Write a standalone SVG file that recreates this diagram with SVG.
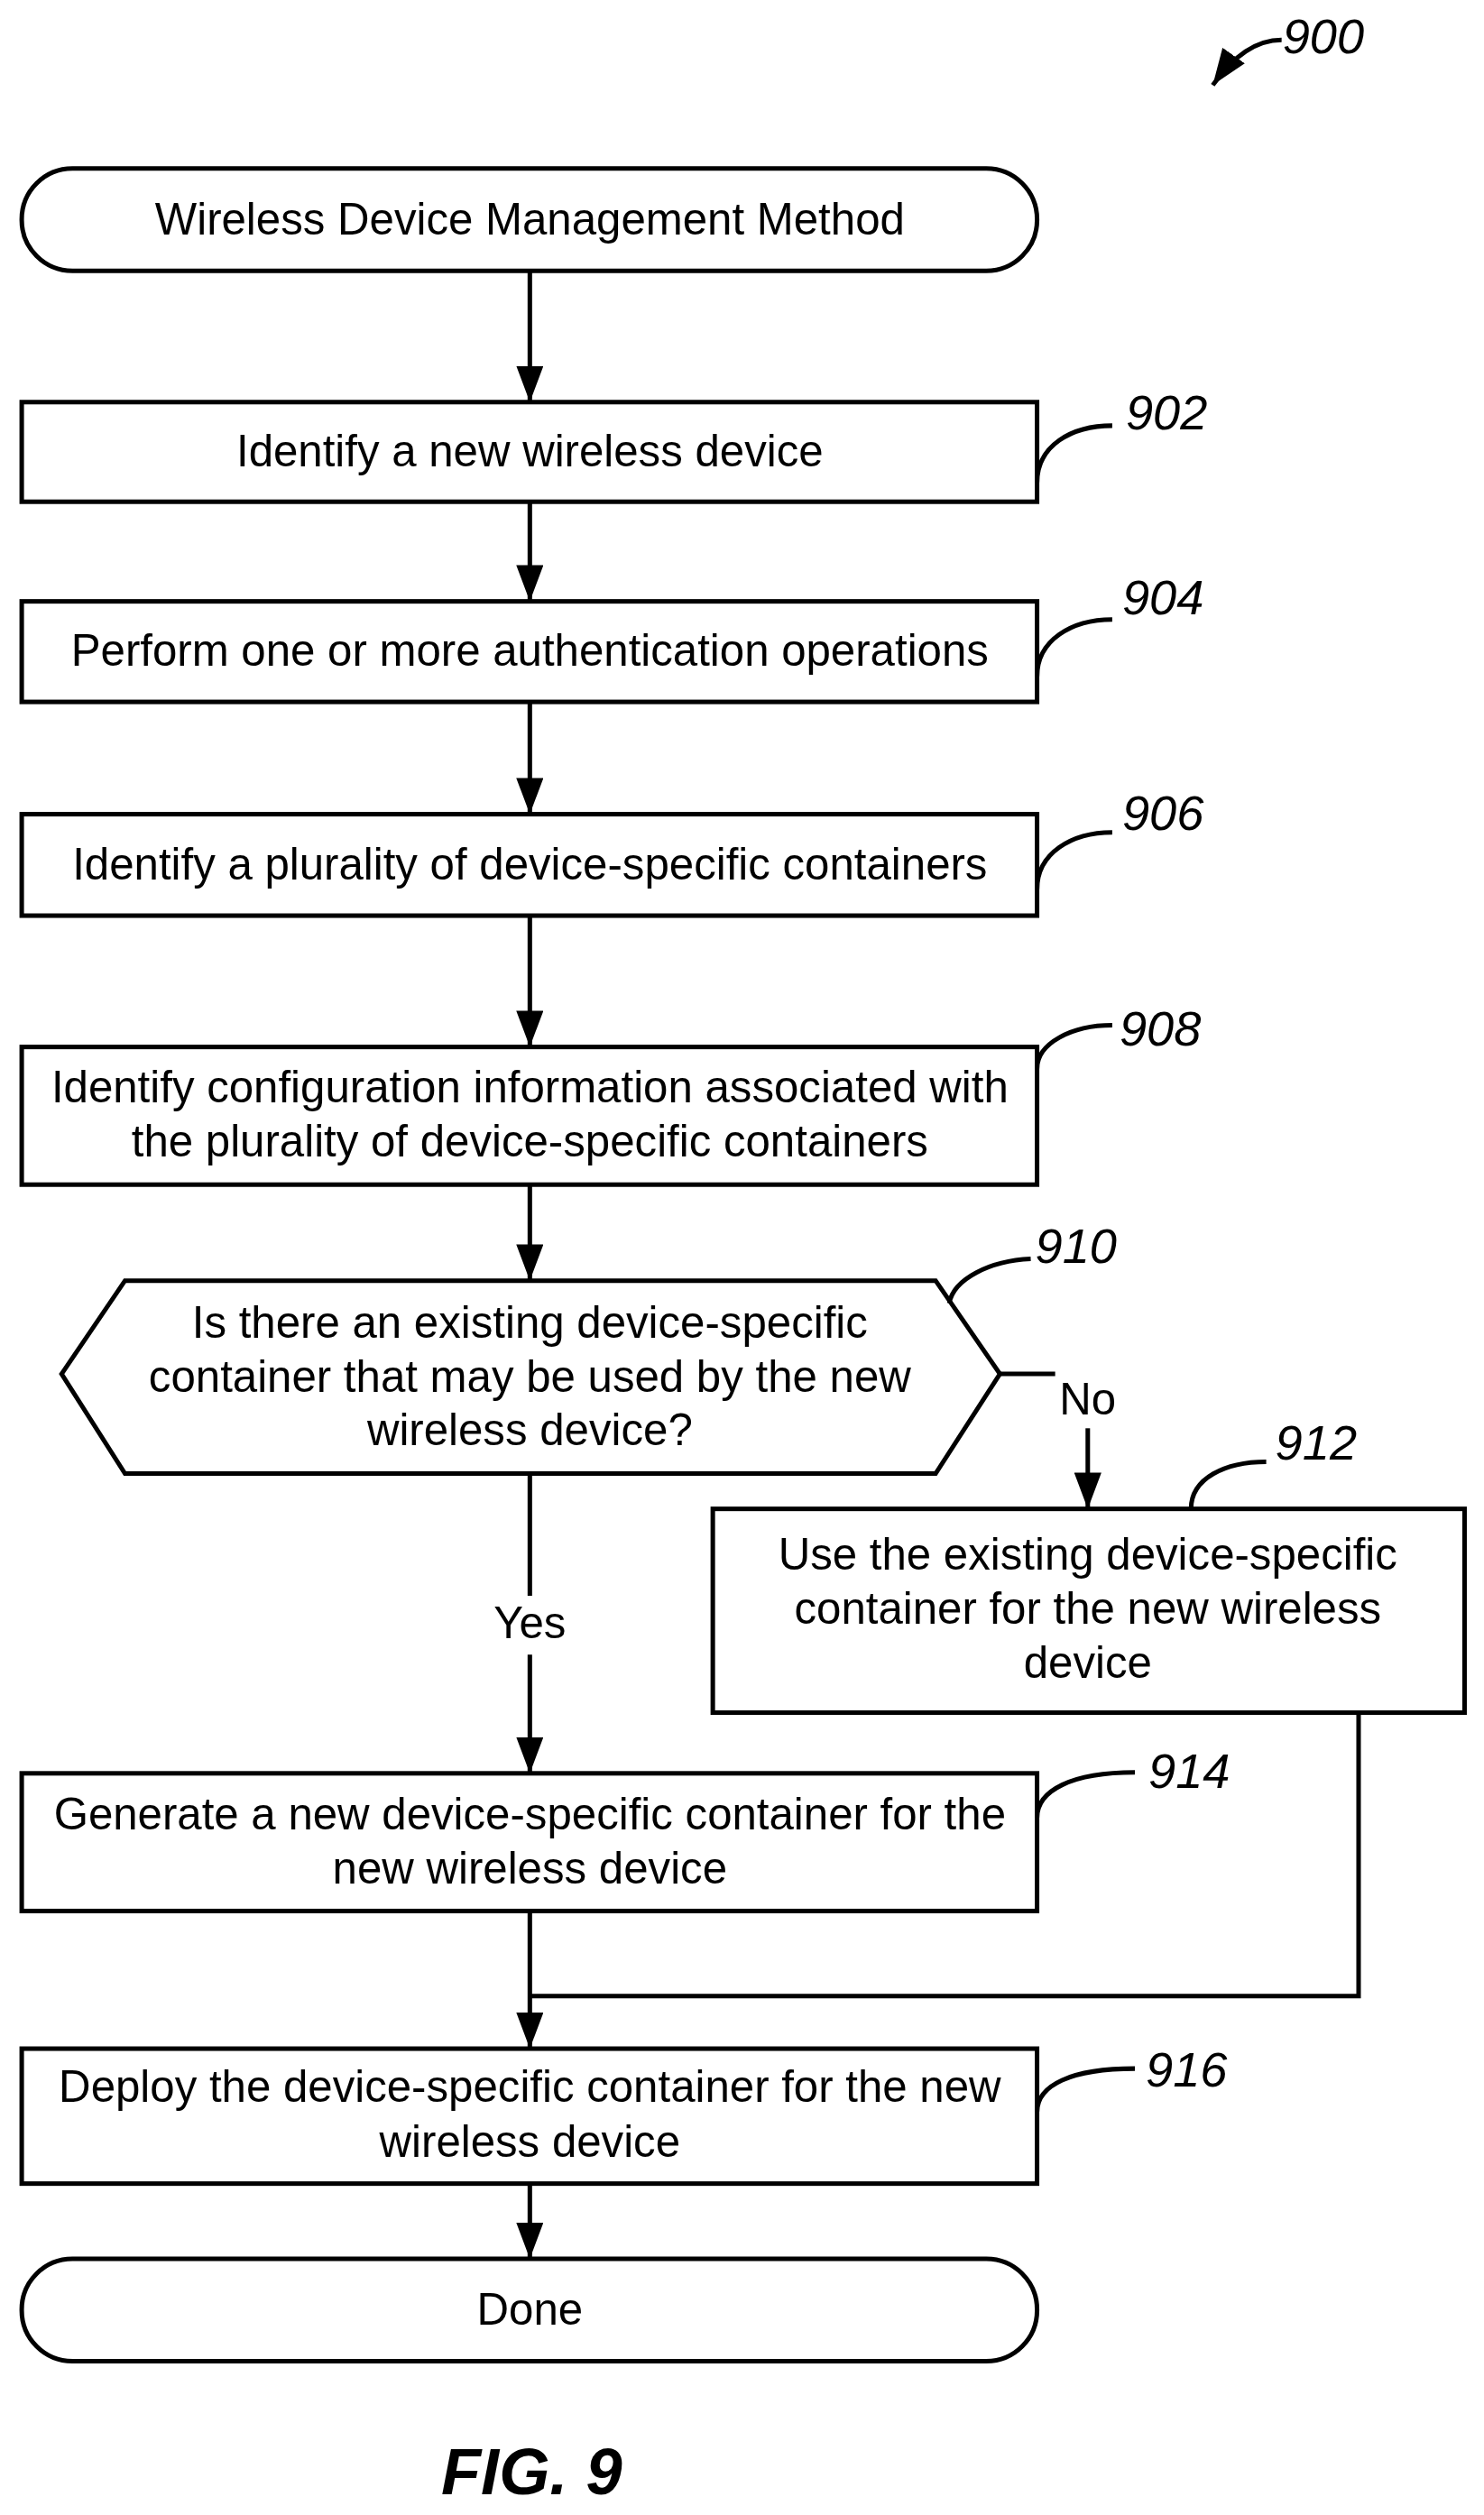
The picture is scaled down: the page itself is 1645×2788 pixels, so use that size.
<svg xmlns="http://www.w3.org/2000/svg" width="1645" height="2788" viewBox="0 0 1645 2788">
<style>
.s{fill:#fff;stroke:#000;stroke-width:5}
.t{font-family:"Liberation Sans",Arial,sans-serif;font-size:49px;text-anchor:middle;fill:#000}
.n{font-family:"Liberation Sans",Arial,sans-serif;font-size:54px;font-style:italic;fill:#000}
.c{fill:none;stroke:#000;stroke-width:5}
</style>
<defs>
<marker id="b" viewBox="0 0 40 30" refX="40" refY="15" markerWidth="40" markerHeight="30" orient="auto" markerUnits="userSpaceOnUse"><path d="M0,0 L40,15 L0,30 z"/></marker></defs>
<g transform="translate(3,2) scale(1.004)">
<g id="connectors">
<path class="c" d="M582,297 V442" marker-end="url(#b)"/>
<path class="c" d="M582,552 V662" marker-end="url(#b)"/>
<path class="c" d="M582,773 V897" marker-end="url(#b)"/>
<path class="c" d="M582,1009 V1154" marker-end="url(#b)"/>
<path class="c" d="M582,1306 V1412" marker-end="url(#b)"/>
<path class="c" d="M582,1625 V1760 M582,1825 V1956" marker-end="url(#b)"/>
<path class="c" d="M1101,1515 H1162"/>
<path class="c" d="M1198,1575 V1664" marker-end="url(#b)"/>
<path class="c" d="M582,2108 V2260" marker-end="url(#b)"/>
<path class="c" d="M1497,1889 V2202 H582"/>
<path class="c" d="M582,2409 V2492" marker-end="url(#b)"/>
<text class="t" x="1198" y="1560">No</text>
<text class="t" x="582" y="1807">Yes</text>
</g>
<g id="n900"><path class="c" d="M1412,42 C1385,42 1360,58 1336,92" marker-end="url(#b)"/><text class="n" x="1413" y="57">900</text></g>
<g id="start"><rect class="s" x="21" y="184" width="1121" height="113" rx="56"/><text class="t" x="582" y="257">Wireless Device Management Method</text></g>
<g id="n902"><rect class="s" x="21" y="442" width="1121" height="110"/><text class="t" x="582" y="513">Identify a new wireless device</text><path class="c" d="M1142,531 C1142,490 1180,468 1225,468"/><text class="n" x="1240" y="472">902</text></g>
<g id="n904"><rect class="s" x="21" y="662" width="1121" height="111"/><text class="t" x="582" y="733">Perform one or more authentication operations</text><path class="c" d="M1142,745 C1142,705 1180,682 1225,682"/><text class="n" x="1236" y="676">904</text></g>
<g id="n906"><rect class="s" x="21" y="897" width="1121" height="112"/><text class="t" x="582" y="969">Identify a plurality of device-specific containers</text><path class="c" d="M1142,980 C1142,940 1180,917 1225,917"/><text class="n" x="1236" y="914">906</text></g>
<g id="n908"><rect class="s" x="21" y="1154" width="1121" height="152"/><text class="t" x="582" y="1215">Identify configuration information associated with</text><text class="t" x="582" y="1275">the plurality of device-specific containers</text><path class="c" d="M1142,1178 C1142,1150 1180,1130 1225,1130"/><text class="n" x="1233" y="1152">908</text></g>
<g id="n910"><polygon class="s" points="65,1515 135,1412 1030,1412 1101,1515 1030,1625 135,1625"/><text class="t" x="582" y="1475">Is there an existing device-specific</text><text class="t" x="582" y="1535">container that may be used by the new</text><text class="t" x="582" y="1594">wireless device?</text><path class="c" d="M1045,1437 C1050,1410 1090,1390 1135,1388"/><text class="n" x="1140" y="1392">910</text></g>
<g id="n912"><rect class="s" x="784" y="1664" width="830" height="225"/><text class="t" x="1198" y="1731">Use the existing device-specific</text><text class="t" x="1198" y="1791">container for the new wireless</text><text class="t" x="1198" y="1851">device</text><path class="c" d="M1312,1664 C1312,1630 1350,1612 1395,1612"/><text class="n" x="1405" y="1610">912</text></g>
<g id="n914"><rect class="s" x="21" y="1956" width="1121" height="152"/><text class="t" x="582" y="2018">Generate a new device-specific container for the</text><text class="t" x="582" y="2078">new wireless device</text><path class="c" d="M1142,2005 C1142,1975 1180,1955 1250,1955"/><text class="n" x="1265" y="1972">914</text></g>
<g id="n916"><rect class="s" x="21" y="2260" width="1121" height="149"/><text class="t" x="582" y="2319">Deploy the device-specific container for the new</text><text class="t" x="582" y="2379">wireless device</text><path class="c" d="M1142,2330 C1142,2300 1180,2282 1250,2282"/><text class="n" x="1262" y="2302">916</text></g>
<g id="done"><rect class="s" x="21" y="2492" width="1121" height="113" rx="56"/><text class="t" x="582" y="2565">Done</text></g>
<text x="584" y="2752" font-family="Liberation Sans,Arial,sans-serif" font-size="72" font-weight="bold" font-style="italic" text-anchor="middle">FIG. 9</text>
</g>
</svg>
